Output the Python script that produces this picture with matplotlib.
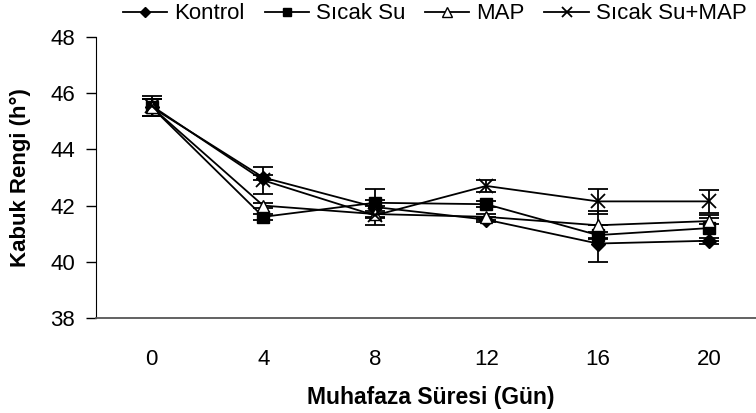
import numpy as np
import matplotlib
matplotlib.use("Agg")
from matplotlib import pyplot as plt
from matplotlib.lines import Line2D

plt.rcParams["font.family"] = ["Liberation Sans", "DejaVu Sans"]

days = ["0", "4", "8", "12", "16", "20"]

kontrol = [45.5, 43.0, 41.95, 41.5, 40.65, 40.75]
kontrol_err = [0.3, 0.1, 0.65, 0.1, 0.65, 0.1]

sicak_su = [45.5, 41.6, 42.1, 42.05, 40.95, 41.2]
sicak_su_err = [0.3, 0.1, 0.1, 0.1, 0.1, 0.45]

map_ = [45.5, 42.0, 41.7, 41.6, 41.3, 41.45]
map_err = [0.3, 0.1, 0.1, 0.1, 0.5, 0.1]

sicak_map = [45.55, 42.9, 41.65, 42.7, 42.15, 42.15]
sicak_map_err = [0.35, 0.49, 0.1, 0.2, 0.45, 0.42]

fig = plt.figure(figsize=(7.56, 4.13), dpi=100)
ax = fig.add_axes([96/756, 1 - 318/413, 669/756, 281/413])

x = np.arange(len(days))
series = [
    ("Kontrol", kontrol, kontrol_err, dict(marker="D", ms=7, mfc="black")),
    ("Sıcak Su", sicak_su, sicak_su_err, dict(marker="s", ms=8, mfc="black")),
    ("MAP", map_, map_err, dict(marker="^", ms=9, mfc="white")),
    ("Sıcak Su+MAP", sicak_map, sicak_map_err, dict(marker="x", ms=10, mew=1.3)),
]
handles = []
for name, vals, err, style in series:
    ax.errorbar(x, vals, yerr=err, color="black", lw=1.3, capsize=7.5,
                capthick=1.3, elinewidth=1.3, mec="black", **style)
    hstyle = dict(style)
    hstyle["ms"] = style["ms"] * 0.75
    handles.append(Line2D([], [], color="black", lw=1.3, mec="black", label=name, **hstyle))

ax.set_xlim(-0.5, len(days) - 0.5)
ax.set_ylim(38, 48)
ax.set_yticks([38, 40, 42, 44, 46, 48])
ax.set_xticks(x)
ax.set_xticklabels(days)
ax.tick_params(axis="x", length=0, pad=22, labelsize=16)
ax.tick_params(axis="y", length=7, width=1, direction="out", pad=8, labelsize=16)
ax.spines["top"].set_visible(False)
ax.spines["right"].set_visible(False)
ax.spines["bottom"].set_color("#555555")
ax.spines["bottom"].set_linewidth(1.3)

ax.set_xlabel("Muhafaza Süresi (Gün)", fontsize=16.5, fontweight="bold", labelpad=12)
ax.set_ylabel("Kabuk Rengi (h°)", fontsize=16, fontweight="bold", labelpad=14)

fig.legend(handles=handles, loc="upper center", bbox_to_anchor=(0.575, 1.04),
           ncol=4, frameon=False, fontsize=16, handlelength=2.0,
           handletextpad=0.3, columnspacing=0.9)

fig.savefig("out.png", dpi=100)
